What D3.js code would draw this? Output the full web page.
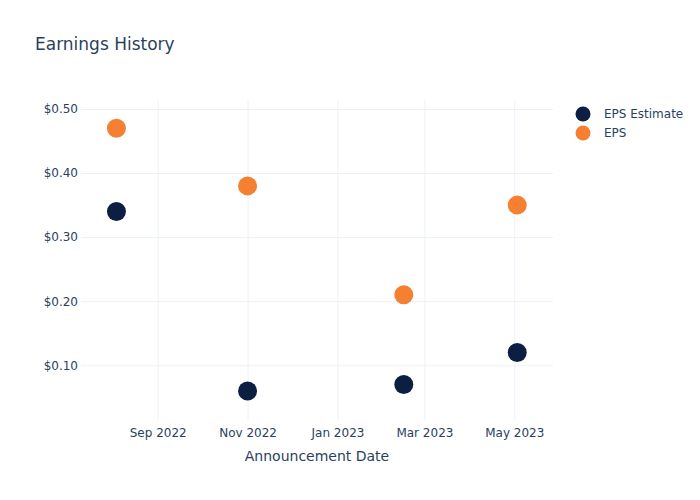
<!DOCTYPE html>
<html><head><meta charset="utf-8">
<script src="https://cdn.jsdelivr.net/npm/d3@7"></script>
<style>body{margin:0;background:#fff}svg{display:block;font-family:"DejaVu Sans",Verdana,sans-serif}</style>
</head><body><svg id="c" width="700" height="500"></svg>
<script>
const dates = ["2022-08-04","2022-11-01","2023-02-15","2023-05-03"];
const epsEstimate = [0.34, 0.06, 0.07, 0.12];
const eps = [0.47, 0.38, 0.21, 0.35];
const xTicks = ["2022-09-01","2022-11-01","2023-01-01","2023-03-01","2023-05-01"];
const yTicks = [0.10, 0.20, 0.30, 0.40, 0.50];
const seriesNames = ["EPS Estimate", "EPS"];
const colors = ["#0c1f42", "#f58031"];

const parse = d3.utcParse("%Y-%m-%d");
const svg = d3.select("#c");
const L = 81, R = 553, T = 100, B = 420;
const x = d3.scaleUtc().domain([parse("2022-09-01"), parse("2023-05-01")]).range([157.7, 514.3]);
const y = d3.scaleLinear().domain([0.10, 0.50]).range([365.3, 109]);
const txt = "#2a3f5f", grid = "#ebf0f8";

svg.append("text").attr("x", 35).attr("y", 50).attr("fill", txt).attr("font-size", 17).text("Earnings History");

const xAxis = d3.axisBottom(x).tickValues(xTicks.map(parse)).tickFormat(d3.utcFormat("%b %Y")).tickSize(-(B - T)).tickPadding(8);
const gx = svg.append("g").attr("transform", `translate(0,${B})`).call(xAxis);
gx.select(".domain").remove();
gx.selectAll("line").attr("stroke", grid);
gx.selectAll("text").attr("fill", txt).attr("font-size", 12).attr("font-family", "DejaVu Sans, sans-serif");

const yAxis = d3.axisLeft(y).tickValues(yTicks).tickFormat(d => "$" + d.toFixed(2)).tickSize(-(R - L)).tickPadding(3);
const gy = svg.append("g").attr("transform", `translate(${L},0)`).call(yAxis);
gy.select(".domain").remove();
gy.selectAll("line").attr("stroke", grid);
gy.selectAll("text").attr("fill", txt).attr("font-size", 12).attr("font-family", "DejaVu Sans, sans-serif");

svg.append("text").attr("x", (L + R) / 2).attr("y", 461).attr("text-anchor", "middle").attr("fill", txt).attr("font-size", 14).text("Announcement Date");

[epsEstimate, eps].forEach((vals, i) => {
  svg.append("g").selectAll("circle").data(vals).join("circle")
    .attr("cx", (d, j) => x(parse(dates[j]))).attr("cy", d => y(d)).attr("r", 9.5)
    .attr("fill", colors[i]);
});

const lg = svg.append("g");
seriesNames.forEach((n, i) => {
  lg.append("circle").attr("cx", 583).attr("cy", 114 + i * 19).attr("r", 7.5).attr("fill", colors[i]);
  lg.append("text").attr("x", 604).attr("y", 114 + i * 19).attr("dy", "0.35em").attr("fill", txt).attr("font-size", 12).text(n);
});
</script></body></html>
